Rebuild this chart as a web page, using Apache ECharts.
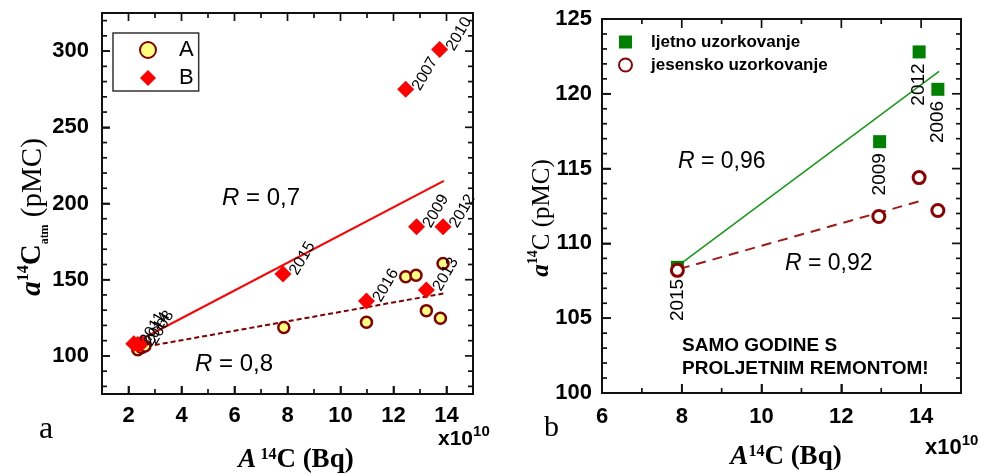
<!DOCTYPE html>
<html><head><meta charset="utf-8">
<script src="https://cdn.jsdelivr.net/npm/echarts@6/dist/echarts.min.js"></script>
<style>html,body{margin:0;padding:0;background:#fff}#c{width:992px;height:474px}</style>
</head><body><div id="c"></div>
<script>
// ---------- Panel a ----------
const seriesA = [[12.46,152.0],[12.85,152.9],[13.87,160.6],[13.24,129.7],[13.77,124.7],[10.98,122.1],[7.86,118.6],[2.35,104.0],[2.5,105.5],[2.62,106.5]];
const seriesB = [[13.74,301.1],[12.46,274.9],[12.87,184.8],[13.87,184.8],[7.83,153.8],[10.98,136.1],[13.24,143.3],[2.2,108.0],[2.35,107.5],[2.5,108.5]];
const yearsB = ['2010','2007','2009','2012','2015','2016','2013','2011','2014','2008'];
const fitB = [[2.2,108.3],[13.9,214.8]];
const fitA = [[2.4,105.3],[13.9,141.0]];
const leftXTicks = [2,4,6,8,10,12,14];
const leftXMinor = [3,5,7,9,11,13];
const leftYTicks = [100,150,200,250,300];
const leftYMinor = [80,90,110,120,130,140,160,170,180,190,210,220,230,240,260,270,280,290,310,320];

// ---------- Panel b ----------
const summer = [[7.89,108.4],[12.96,116.8],[13.95,122.8],[14.42,120.3]];
const summerYears = ['2015','2009','2012','2006'];
const autumn = [[7.89,108.2],[12.94,111.8],[13.95,114.4],[14.42,112.2]];
const fitSummer = [[7.9,108.5],[14.45,121.5]];
const fitAutumn = [[7.95,108.3],[14.0,112.85]];
const rightXTicks = [6,8,10,12,14];
const rightXMinor = [7,9,11,13];
const rightYTicks = [100,105,110,115,120,125];
const rightYMinor = [101,102,103,104,106,107,108,109,111,112,113,114,116,117,118,119,121,122,123,124];

const SANS = 'Liberation Sans, Arial, sans-serif';
const SERIF = 'Liberation Serif, Times New Roman, serif';
const INK = '#111';
const LABEL = {color: '#000', fontFamily: SANS, fontWeight: 'bold', fontSize: 22};

function mkAxis(gridIndex, min, max, ticks, len, margin) {
  return {
    type: 'value', gridIndex, min, max,
    axisLine: {show: false},
    axisTick: {show: true, inside: true, length: len, customValues: ticks, lineStyle: {color: INK, width: 1.6}},
    axisLabel: Object.assign({show: true, customValues: ticks, margin}, LABEL),
    splitLine: {show: false}
  };
}

// tick marks drawn as thin rect symbols anchored on the frame through the axes' scales
function tickMarks(xIdx, yIdx, vals, isX, refMin, refMax, len) {
  const w = 1.7;
  const mk = (ref, sign) => ({
    type: 'scatter', xAxisIndex: xIdx, yAxisIndex: yIdx, silent: true, clip: false, z: 6,
    symbol: 'rect', symbolSize: isX ? [w, len] : [len, w],
    symbolOffset: isX ? [0, sign * len / 2] : [sign * len / 2, 0],
    itemStyle: {color: INK, opacity: 1},
    data: vals.map(v => isX ? [v, ref] : [ref, v]),
    label: {show: false}, emphasis: {disabled: true}
  });
  // bottom/left side points inward with +/-; top/right the opposite
  return isX ? [mk(refMin, -1), mk(refMax, 1)] : [mk(refMin, 1), mk(refMax, -1)];
}

function txt(x, y, rich, text, extra) {
  return Object.assign({
    type: 'text', x, y, z: 50,
    style: {text, rich, align: 'left', verticalAlign: 'middle'}
  }, extra || {});
}

const rR = (color, size) => ({
  it: {fontFamily: SANS, fontStyle: 'italic', fontSize: size, color},
  n: {fontFamily: SANS, fontSize: size, color}
});

const titleX = (size, supSize) => ({
  ai: {fontFamily: SERIF, fontStyle: 'italic', fontWeight: 'bold', fontSize: size, color: '#000', lineHeight: size},
  sup: {fontFamily: SERIF, fontWeight: 'bold', fontSize: supSize, color: '#000', verticalAlign: 'top', lineHeight: size},
  b: {fontFamily: SERIF, fontWeight: 'bold', fontSize: size, color: '#000', lineHeight: size}
});

const x10 = (size, supSize) => ({
  n: {fontFamily: SANS, fontWeight: 'bold', fontSize: size, color: '#000', lineHeight: size + 4, verticalAlign: 'bottom'},
  sup: {fontFamily: SANS, fontWeight: 'bold', fontSize: supSize, color: '#000', lineHeight: size + 4, verticalAlign: 'top'}
});

const yTitleRich = (size, cWeight) => ({
  ai: {fontFamily: SERIF, fontStyle: 'italic', fontWeight: 'bold', fontSize: size, color: '#000', lineHeight: size + 6},
  sup: {fontFamily: SERIF, fontWeight: 'bold', fontSize: Math.round(size * 0.55), color: '#000', verticalAlign: 'top', lineHeight: size + 6},
  b: {fontFamily: SERIF, fontWeight: cWeight, fontSize: size, color: '#000', lineHeight: size + 6},
  sub: {fontFamily: SERIF, fontWeight: 'bold', fontSize: Math.round(size * 0.42), color: '#000', verticalAlign: 'bottom', lineHeight: size + 6},
  n: {fontFamily: SERIF, fontSize: size, color: '#000', lineHeight: size + 6}
});

const NOTE = {n: {fontFamily: SANS, fontWeight: 'bold', fontSize: 19, color: '#1c1c8c'}};

const graphics = [
  txt(222, 198, rR('#ff0000', 24), '{it|R}{n| = 0,7}'),
  txt(195, 364, rR('#800000', 24), '{it|R}{n| = 0,8}'),
  txt(678, 162, rR('#000', 23), '{it|R}{n| = 0,96}'),
  txt(785, 264, rR('#000', 23), '{it|R}{n| = 0,92}'),
  txt(682, 346, NOTE, '{n|SAMO GODINE S}'),
  txt(682, 369, NOTE, '{n|PROLJETNIM REMONTOM!}'),
  txt(39, 430, {n: {fontFamily: SERIF, fontSize: 32, color: '#000'}}, '{n|a}'),
  txt(544, 428, {n: {fontFamily: SERIF, fontSize: 30, color: '#000'}}, '{n|b}'),
  {type: 'text', x: 296, y: 460, z: 50, style: {text: '{ai|A}{sup| 14}{b|C (Bq)}', rich: titleX(27, 16), align: 'center', verticalAlign: 'middle'}},
  {type: 'text', x: 786, y: 457, z: 50, style: {text: '{ai|A}{sup|14}{b|C (Bq)}', rich: titleX(27, 16), align: 'center', verticalAlign: 'middle'}},
  txt(438, 437, x10(21, 15), '{n|x10}{sup|10}'),
  txt(925, 446, x10(22, 15), '{n|x10}{sup|10}'),
  {type: 'text', x: 33, y: 217, rotation: Math.PI / 2, z: 50, style: {text: '{ai|a}{sup|14}{b|C}{sub|atm}{n| (pMC)}', rich: yTitleRich(29, 'bold'), align: 'center', verticalAlign: 'middle'}},
  {type: 'text', x: 542, y: 218, rotation: Math.PI / 2, z: 50, style: {text: '{ai|a}{sup|14}{b|C}{n| (pMC)}', rich: yTitleRich(25, 'normal'), align: 'center', verticalAlign: 'middle'}}
];

const tickSeries = [].concat(
  tickMarks(0, 0, leftXTicks, true, 75, 325, 8),
  tickMarks(0, 0, leftXMinor, true, 75, 325, 5),
  tickMarks(0, 0, leftYTicks, false, 1, 15, 8),
  tickMarks(0, 0, leftYMinor, false, 1, 15, 5),
  tickMarks(1, 1, rightXTicks, true, 100, 125, 9),
  tickMarks(1, 1, rightXMinor, true, 100, 125, 5),
  tickMarks(1, 1, rightYTicks, false, 6, 15, 9),
  tickMarks(1, 1, rightYMinor, false, 6, 15, 5)
);

const option = {
  animation: false,
  backgroundColor: '#fff',
  grid: [
    {left: 102, top: 13, width: 371, height: 381, show: true, borderColor: INK, borderWidth: 2, backgroundColor: 'transparent'},
    {left: 602, top: 19, width: 359, height: 374, show: true, borderColor: INK, borderWidth: 2, backgroundColor: 'transparent'}
  ],
  xAxis: [mkAxis(0, 1, 15, leftXTicks, 8, 11), mkAxis(1, 6, 15, rightXTicks, 9, 13)],
  yAxis: [mkAxis(0, 75, 325, leftYTicks, 8, 13), mkAxis(1, 100, 125, rightYTicks, 9, 10)],
  legend: [
    {
      data: ['A', 'B'], orient: 'vertical', left: 113, top: 33,
      padding: [6, 5, 2, 26], itemGap: 6, itemWidth: 16, itemHeight: 16,
      borderColor: '#333', borderWidth: 1.5, selectedMode: false,
      textStyle: {fontFamily: SANS, fontSize: 22, color: '#000', padding: [0, 0, 0, 18]}
    },
    {
      data: ['ljetno uzorkovanje', 'jesensko uzorkovanje'], orient: 'vertical', left: 618, top: 32,
      padding: 0, itemGap: 3, itemWidth: 13, itemHeight: 13, selectedMode: false,
      textStyle: {fontFamily: SANS, fontSize: 17, fontWeight: 'bold', color: '#000', padding: [0, 0, 0, 14], lineHeight: 20}
    }
  ],
  graphic: graphics,
  series: tickSeries.concat([
    {
      name: 'fitB', type: 'line', xAxisIndex: 0, yAxisIndex: 0, data: fitB, showSymbol: false, symbol: 'none',
      lineStyle: {color: '#ff0000', width: 2}, z: 2, silent: true
    },
    {
      name: 'fitA', type: 'line', xAxisIndex: 0, yAxisIndex: 0, data: fitA, showSymbol: false, symbol: 'none',
      lineStyle: {color: '#800000', width: 2, type: [5, 3]}, z: 2, silent: true
    },
    {
      name: 'A', type: 'scatter', xAxisIndex: 0, yAxisIndex: 0, data: seriesA, symbol: 'circle', symbolSize: 11,
      itemStyle: {color: '#ffff80', borderColor: '#800000', borderWidth: 2.5, opacity: 1}, z: 3
    },
    {
      name: 'B', type: 'scatter', xAxisIndex: 0, yAxisIndex: 0, data: seriesB, symbol: 'diamond', symbolSize: 17,
      itemStyle: {color: '#ff0000', opacity: 1}, z: 4,
      label: {
        show: true, formatter: p => yearsB[p.dataIndex], position: 'right', distance: 2,
        rotate: 60, align: 'left', verticalAlign: 'middle',
        fontFamily: SANS, fontSize: 16, color: '#000'
      }
    },
    {
      name: 'fitSummer', type: 'line', xAxisIndex: 1, yAxisIndex: 1, data: fitSummer, showSymbol: false, symbol: 'none',
      lineStyle: {color: '#1a9a1a', width: 1.6}, z: 2, silent: true
    },
    {
      name: 'fitAutumn', type: 'line', xAxisIndex: 1, yAxisIndex: 1, data: fitAutumn, showSymbol: false, symbol: 'none',
      lineStyle: {color: '#a01818', width: 2, type: [10, 7]}, z: 2, silent: true
    },
    {
      name: 'ljetno uzorkovanje', type: 'scatter', xAxisIndex: 1, yAxisIndex: 1, data: summer, symbol: 'rect', symbolSize: 13,
      itemStyle: {color: '#008000', opacity: 1}, z: 3,
      label: {
        show: true, formatter: p => summerYears[p.dataIndex], position: 'bottom', distance: 5,
        rotate: 90, align: 'right', verticalAlign: 'middle',
        fontFamily: SANS, fontSize: 19, color: '#000'
      }
    },
    {
      name: 'jesensko uzorkovanje', type: 'scatter', xAxisIndex: 1, yAxisIndex: 1, data: autumn, symbol: 'circle', symbolSize: 12,
      itemStyle: {color: '#ffffff', borderColor: '#8b0000', borderWidth: 3, opacity: 1}, z: 4
    }
  ])
};

const chart = echarts.init(document.getElementById('c'), null, {renderer: 'canvas'});
chart.setOption(option);
</script>
</body></html>
